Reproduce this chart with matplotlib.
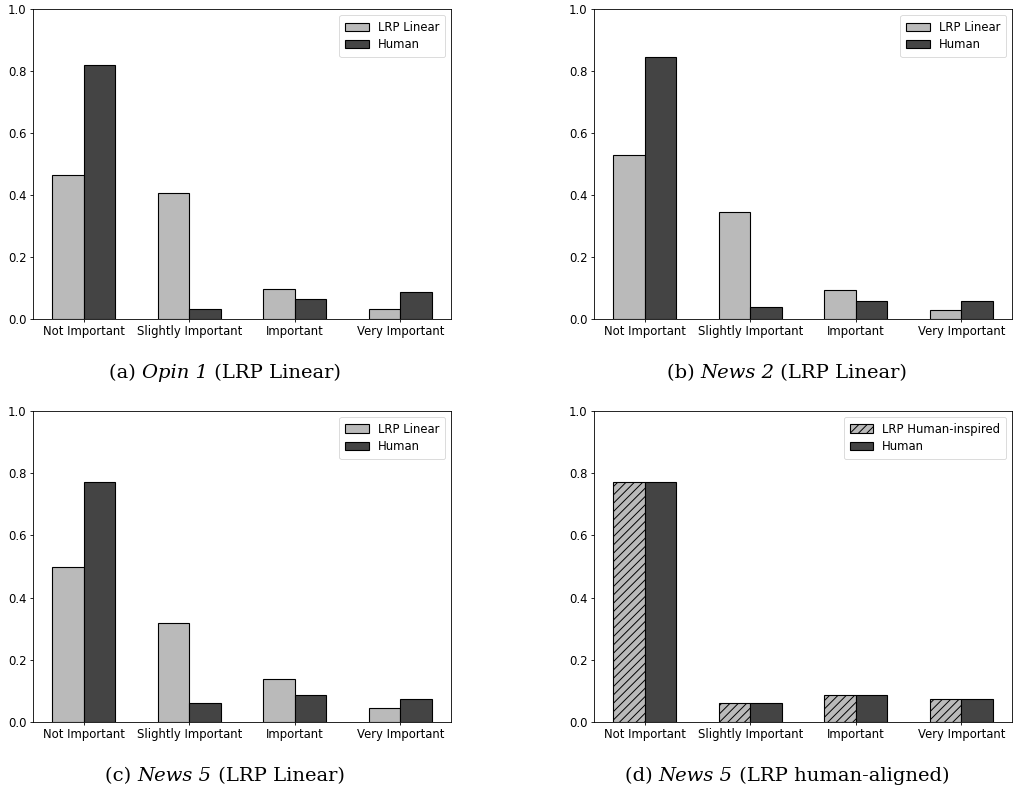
import numpy as np
import matplotlib
matplotlib.use("Agg")
import matplotlib.pyplot as plt

categories = ["Not Important", "Slightly Important", "Important", "Very Important"]

# panel values
opin1_lrp = [0.465, 0.407, 0.098, 0.033]
opin1_human = [0.818, 0.033, 0.063, 0.087]
news2_lrp = [0.529, 0.344, 0.095, 0.030]
news2_human = [0.845, 0.038, 0.057, 0.059]
news5_lrp = [0.497, 0.317, 0.138, 0.046]
news5_human = [0.773, 0.062, 0.087, 0.073]
news5_aligned = [0.773, 0.062, 0.087, 0.073]

# caption pieces: (prefix, italic name, suffix)
captions = [("(a) ", "Opin 1", " (LRP Linear)"),
            ("(b) ", "News 2", " (LRP Linear)"),
            ("(c) ", "News 5", " (LRP Linear)"),
            ("(d) ", "News 5", " (LRP human-aligned)")]

plt.rcParams["hatch.linewidth"] = 0.7

W, H = 1014, 794
fig = plt.figure(figsize=(W / 100, H / 100), dpi=100)


def add_ax(left, right, top, bottom):
    return fig.add_axes([left / W, 1 - bottom / H, (right - left) / W, (bottom - top) / H])


panels = [
    (add_ax(33, 451, 9, 319), opin1_lrp, opin1_human, "LRP Linear", None),
    (add_ax(594, 1012, 9, 319), news2_lrp, news2_human, "LRP Linear", None),
    (add_ax(33, 451, 411, 722), news5_lrp, news5_human, "LRP Linear", None),
    (add_ax(594, 1012, 411, 722), news5_aligned, news5_human, "LRP Human-inspired", "////"),
]

x = np.arange(len(categories))
width = 0.3
for ax, lrp, human, lrp_label, hatch in panels:
    ax.bar(x - width / 2, lrp, width, color="#bababa", edgecolor="black",
           linewidth=0.8, hatch=hatch, label=lrp_label)
    ax.bar(x + width / 2, human, width, color="#444444", edgecolor="black",
           linewidth=0.8, label="Human")
    ax.set_xticks(x)
    ax.set_xticklabels(categories)
    ax.set_ylim(0, 1.0)
    ax.tick_params(labelsize=8.4, length=2.5, width=0.6, pad=2)
    for s in ax.spines.values():
        s.set_linewidth(0.6)
    leg = ax.legend(loc="upper right", fontsize=8.4, handlelength=2.0,
                    handleheight=0.7, borderpad=0.5, labelspacing=0.4)
    leg.get_frame().set_linewidth(0.6)

# captions: three text pieces, centred as a group
renderer = fig.canvas.get_renderer()
caption_pos = [(225, 373), (787, 373), (225, 776), (787, 776)]
for (cx, cy), parts in zip(caption_pos, captions):
    styles = ["normal", "italic", "normal"]
    texts = [fig.text(0, 1 - cy / H, p, ha="left", va="center", fontsize=14,
                      family="DejaVu Serif", style=st)
             for p, st in zip(parts, styles)]
    widths = [t.get_window_extent(renderer).width for t in texts]
    xpos = cx - sum(widths) / 2
    for t, w in zip(texts, widths):
        t.set_x(xpos / W)
        xpos += w

fig.savefig("out.png", dpi=100)
